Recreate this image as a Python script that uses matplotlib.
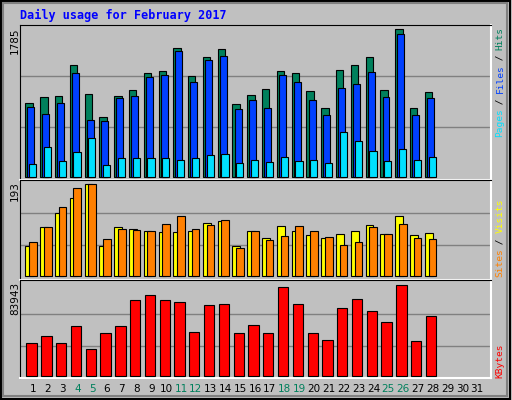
import matplotlib
matplotlib.use("Agg")
import matplotlib.pyplot as plt
import numpy as np

days = np.arange(1, 29)
hits = [889, 962, 974, 1349, 998, 719, 974, 1046, 1252, 1277, 1555, 1216, 1446, 1543,
        877, 986, 1058, 1277, 1252, 1034, 828, 1289, 1349, 1446, 1046, 1785, 828, 1022]
files = [840, 755, 889, 1252, 683, 671, 949, 974, 1204, 1228, 1519, 1143, 1410, 1458,
         816, 925, 828, 1228, 1143, 925, 743, 1071, 1119, 1265, 962, 1725, 743, 949]
pages = [162, 356, 198, 307, 465, 149, 234, 234, 234, 234, 210, 234, 271, 283,
         174, 210, 186, 246, 198, 210, 174, 537, 440, 319, 198, 343, 210, 246]
visits = [63, 103, 132, 164, 193, 63, 103, 99, 94, 92, 92, 94, 111, 115,
          63, 94, 80, 105, 94, 86, 80, 88, 94, 107, 88, 126, 86, 90]
sites = [71, 103, 145, 185, 193, 78, 99, 96, 94, 109, 126, 99, 107, 117,
         59, 94, 75, 84, 105, 94, 82, 65, 71, 103, 88, 109, 80, 78]
kbytes = [30640, 37074, 30640, 46266, 25125, 39832, 46266, 70166, 74762, 70166, 68327, 40751, 65570, 66489,
          39832, 47186, 39832, 82115, 66489, 39832, 33398, 62812, 71085, 60054, 49943, 83943, 32478, 55458]
weekend = [4, 5, 11, 12, 18, 19, 25, 26]

C_HITS, C_FILES, C_PAGES = "#00805C", "#0040FF", "#00E0FF"
C_VISITS, C_SITES, C_KB = "#FFFF00", "#FF8000", "#FF0000"
BG = "#C0C0C0"

fig = plt.figure(figsize=(5.12, 4.0), dpi=100, facecolor=BG)
W, H = 512, 400


def add_panel(top, bottom):
    ax = fig.add_axes([20 / W, 1 - bottom / H, 471 / W, (bottom - top) / H])
    ax.set_facecolor(BG)
    ax.set_xlim(1 - 0.88, 31.95)
    for s in ["left", "top"]:
        ax.spines[s].set_color("black")
    for s in ["right", "bottom"]:
        ax.spines[s].set_color("white")
        ax.spines[s].set_linewidth(1.5)
    ax.set_yticks([])
    ax.set_xticks([])
    return ax


def bars(ax, vals, lo, hi, color):
    ax.bar(days + (lo + hi) / 2, vals, width=hi - lo, color=color, edgecolor="black", linewidth=0.8, zorder=3)


def setup_y(ax, vmax, bar_px, top_px, base_px, bottom_px):
    unit = vmax / bar_px
    ax.set_ylim(-(bottom_px - base_px) * unit, (base_px - top_px) * unit)
    for f in (0.335, 0.68):
        ax.axhline(vmax * f, color="#808080", linewidth=1, zorder=1)


ax1 = add_panel(25, 180)
setup_y(ax1, 1785, 148, 25, 177, 180)
bars(ax1, hits, -0.52, -0.02, C_HITS)
bars(ax1, files, -0.38, 0.09, C_FILES)
bars(ax1, pages, -0.27, 0.22, C_PAGES)

ax2 = add_panel(180, 280)
setup_y(ax2, 193, 92, 180, 276, 280)
bars(ax2, visits, -0.52, 0.0, C_VISITS)
bars(ax2, sites, -0.27, 0.25, C_SITES)

ax3 = add_panel(280, 378)
setup_y(ax3, 83943, 91, 280, 376, 378)
bars(ax3, kbytes, -0.45, 0.25, C_KB)

# day labels
for d in range(1, 32):
    fig.text((20 + (d - 1 + 0.88) * 14.8) / W, 1 - 389 / H, str(d), ha="center", va="center",
             fontsize=7.5, color=C_HITS if d in weekend else "black")

fig.text(20 / W, 1 - 15 / H, "Daily usage for February 2017", color="#0000FF",
         fontsize=8.5, fontweight="bold", family="DejaVu Sans Mono", va="center")

# max labels on the left
for txt, y in [("1785", 27), ("193", 181), ("83943", 282)]:
    fig.text(15 / W, 1 - y / H, txt, rotation=90, ha="center", va="top", fontsize=7.5)


def side_label(pieces, bottom_px, step=5.45):
    pos = 0
    for txt, col in pieces:
        fig.text(500 / W, 1 - (bottom_px - pos * step) / H, txt, rotation=90, ha="center", va="bottom",
                 color=col, fontsize=6.8, family="DejaVu Sans Mono")
        pos += len(txt)


side_label([("Pages", C_PAGES), (" / ", "black"), ("Files", C_FILES), (" / ", "black"), ("Hits", C_HITS)], 137)
side_label([("Sites", C_SITES), (" / ", "black"), ("Visits", C_VISITS)], 277)
side_label([("KBytes", C_KB)], 378)

# outer 3D border
fig.patches.append(plt.Rectangle((0.002, 0.003), 0.994, 0.994, transform=fig.transFigure,
                                 fill=False, edgecolor="black", linewidth=1.5))
fig.patches.append(plt.Rectangle((0.006, 0.01), 0.984, 0.982, transform=fig.transFigure,
                                 fill=False, edgecolor="#808080", linewidth=1.5))

fig.savefig("out.png", dpi=100, facecolor=BG)
